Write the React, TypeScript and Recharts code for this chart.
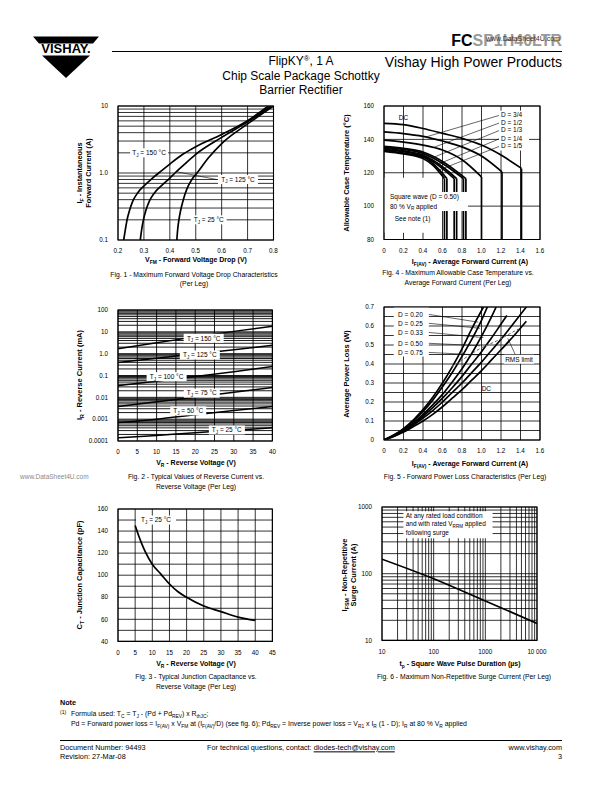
import React from "react";
import {
  CartesianGrid,
  Line,
  LineChart,
  ReferenceArea,
  ReferenceDot,
  ReferenceLine,
  XAxis,
  YAxis,
} from "recharts";

type Pt = [number, number];
const FONT = '"Liberation Sans", Arial, Helvetica, sans-serif';

// Fig. 1 - forward voltage drop (V, A)
const fig1XTicks = [0.2, 0.3, 0.4, 0.5, 0.6, 0.7, 0.8];
const fig1Tj150: Pt[] = [[0.222, 0.1], [0.228, 0.14], [0.235, 0.2], [0.245, 0.28], [0.257, 0.38], [0.275, 0.5], [0.3, 0.64], [0.33, 0.82], [0.357, 1.0], [0.4, 1.36], [0.45, 1.9], [0.5, 2.47], [0.6, 3.77], [0.7, 6.04], [0.78, 10]];
const fig1Tj125: Pt[] = [[0.286, 0.1], [0.291, 0.14], [0.298, 0.2], [0.308, 0.28], [0.321, 0.38], [0.34, 0.5], [0.37, 0.66], [0.4, 0.84], [0.42, 1.0], [0.45, 1.28], [0.5, 1.9], [0.6, 3.4], [0.7, 5.8], [0.79, 10]];
const fig1Tj25: Pt[] = [[0.427, 0.1], [0.43, 0.14], [0.435, 0.2], [0.442, 0.28], [0.452, 0.4], [0.466, 0.58], [0.485, 0.8], [0.505, 1.0], [0.55, 1.7], [0.6, 2.75], [0.7, 5.4], [0.8, 10]];

// Fig. 4 - allowable case temperature (A, °C)
const fig4XTicks = [0, 0.2, 0.4, 0.6, 0.8, 1.0, 1.2, 1.4, 1.6];
const fig4YTicks = [80, 100, 120, 140, 160];
const fig4Dc: Pt[] = [[0, 149.6], [0.2, 148.8], [0.4, 146.5], [0.6, 143.6], [0.8, 140.6], [1.0, 136.6], [1.2, 130.6], [1.41, 122.6]];
const fig4D34: Pt[] = [[0, 144.5], [0.2, 143.5], [0.4, 141.8], [0.6, 139], [0.8, 135.5], [1.0, 130], [1.21, 120.5]];
const fig4D12: Pt[] = [[0, 139.5], [0.2, 138.4], [0.4, 136.6], [0.6, 133.6], [0.8, 127.8], [1.0, 117.5]];
const fig4D13: Pt[] = [[0, 135.8], [0.2, 134.6], [0.4, 132.4], [0.6, 126.8], [0.84, 116.5]];
const fig4D13b: Pt[] = [[0, 135.2], [0.2, 134], [0.4, 131.6], [0.6, 125.6], [0.815, 116.5]];
const fig4D14: Pt[] = [[0, 134.4], [0.2, 133.1], [0.4, 130.6], [0.6, 123.6], [0.745, 116.5]];
const fig4D14b: Pt[] = [[0, 133.9], [0.2, 132.6], [0.4, 130], [0.6, 122.5], [0.72, 116.5]];
const fig4D15: Pt[] = [[0, 133.3], [0.2, 131.8], [0.4, 129.4], [0.5, 125.6], [0.645, 116.5]];
const fig4D15b: Pt[] = [[0, 132.8], [0.2, 131.3], [0.4, 128.6], [0.5, 124.6], [0.62, 116.5]];
const fig4Labels = ["D = 3/4", "D = 1/2", "D = 1/3", "D = 1/4", "D = 1/5"];
const fig4LabelY = [154.5, 150, 145.5, 140.5, 136];
const fig4LeaderEnd: Pt[] = [[0.45, 141.8], [0.5, 135], [0.52, 129.5], [0.55, 125], [0.56, 121.5]];

// Fig. 2 - reverse current (V, mA)
const fig2V = [0, 10, 20, 30, 40];
const fig2XTicks = [0, 5, 10, 15, 20, 25, 30, 35, 40];
const fig2Tj150 = [1.7, 3.2, 5.8, 10.5, 18];
const fig2Tj125 = [0.39, 0.62, 0.98, 1.5, 2.4];
const fig2Tj100 = [0.034, 0.055, 0.09, 0.15, 0.26];
const fig2Tj75 = [0.0038, 0.0062, 0.01, 0.017, 0.028];
const fig2Tj50 = [0.0007, 0.001, 0.0016, 0.0025, 0.0038];
const fig2Tj25 = [0.00014, 0.00018, 0.00024, 0.00031, 0.0004];
const fig2LabelTemps = ["150", "125", "100", "75", "50", "25"];
const fig2LabelPos: Pt[] = [[22.2, 5.07], [21.2, 0.87], [12.6, 0.089], [21.7, 0.0155], [18.2, 0.0024], [28.2, 0.00032]];

// Fig. 5 - forward power loss (A, W)
const fig5YTicks = [0, 0.05, 0.1, 0.15, 0.2, 0.25, 0.3, 0.35, 0.4, 0.45, 0.5, 0.55, 0.6, 0.65, 0.7];
const fig5D20: Pt[] = [[0, 0], [0.1, 0.026], [0.2, 0.06], [0.3, 0.105], [0.4, 0.16], [0.5, 0.225], [0.6, 0.3], [0.7, 0.385], [0.8, 0.48], [0.9, 0.585], [1.02, 0.7]];
const fig5D25: Pt[] = [[0, 0], [0.1, 0.025], [0.2, 0.057], [0.3, 0.1], [0.4, 0.15], [0.5, 0.21], [0.6, 0.28], [0.7, 0.355], [0.8, 0.44], [0.9, 0.53], [1.0, 0.63], [1.06, 0.7]];
const fig5D33: Pt[] = [[0, 0], [0.1, 0.024], [0.2, 0.053], [0.3, 0.09], [0.4, 0.135], [0.5, 0.185], [0.6, 0.24], [0.7, 0.305], [0.8, 0.375], [0.9, 0.455], [1.0, 0.545], [1.1, 0.645], [1.15, 0.7]];
const fig5D50: Pt[] = [[0, 0], [0.1, 0.022], [0.2, 0.05], [0.3, 0.085], [0.4, 0.125], [0.5, 0.17], [0.6, 0.22], [0.7, 0.275], [0.8, 0.335], [0.9, 0.4], [1.0, 0.465], [1.1, 0.535], [1.2, 0.61], [1.26, 0.655]];
const fig5D75: Pt[] = [[0, 0], [0.1, 0.02], [0.2, 0.046], [0.3, 0.078], [0.4, 0.115], [0.5, 0.155], [0.6, 0.2], [0.7, 0.25], [0.8, 0.3], [0.9, 0.355], [1.0, 0.41], [1.1, 0.47], [1.2, 0.53], [1.3, 0.595], [1.46, 0.7]];
const fig5Dc: Pt[] = [[0, 0], [0.1, 0.018], [0.2, 0.042], [0.3, 0.07], [0.4, 0.1], [0.5, 0.135], [0.6, 0.175], [0.7, 0.22], [0.8, 0.265], [0.9, 0.315], [1.0, 0.365], [1.1, 0.42], [1.2, 0.475], [1.3, 0.53], [1.46, 0.625]];
const fig5Rms: Pt[] = [[0.694, 0.386], [0.985, 0.482], [1.155, 0.521], [1.378, 0.584]];
const fig5Labels = ["D = 0.20", "D = 0.25", "D = 0.33", "D = 0.50", "D = 0.75"];
const fig5LabelY = [0.661, 0.614, 0.566, 0.509, 0.461];
const fig5LeaderEnd: Pt[] = [[0.967, 0.62], [0.985, 0.588], [1.02, 0.539], [0.985, 0.496], [1.0, 0.447]];

// Fig. 3 - junction capacitance (V, pF)
const fig3XTicks = [0, 5, 10, 15, 20, 25, 30, 35, 40, 45];
const fig3YTicks = [40, 50, 60, 70, 80, 90, 100, 110, 120, 130, 140, 150, 160];
const fig3V = [5, 6, 7, 8, 10, 12.5, 15, 17.5, 20, 25, 30, 35, 40];
const fig3Ct = [145, 136, 128, 121, 110, 101, 92, 85, 80, 72, 67, 62, 59];

// Fig. 6 - surge current (µs, A)
const fig6Tp = [10, 100, 1000, 10000];
const fig6Ifsm = [165, 84, 39, 18];

const logTicks = (lo: number, hi: number) => {
  const out: number[] = [];
  for (let e = Math.round(Math.log10(lo)); e < Math.round(Math.log10(hi)); e++) {
    for (let m = 1; m < 10; m++) out.push(+(m * 10 ** e).toPrecision(3));
  }
  out.push(hi);
  return out;
};
const zip = (xs: number[], ys: number[]): Pt[] => xs.map((x, i) => [x, ys[i]]);

type Geo = { left: number; top: number; w: number; h: number };
type Ax = { domain: [number, number]; ticks: number[]; labels: Record<string, string>; log?: boolean };
const YW = 36, MT = 8, MR = 16, XH = 18;

function Plot({ g, children }: { g: Geo; children: React.ReactNode }) {
  return (
    <div style={{ position: "absolute", left: g.left - YW, top: g.top - MT }}>
      <LineChart width={g.w + YW + MR} height={g.h + MT + XH} margin={{ top: MT, right: MR, bottom: 0, left: 0 }}>
        {children}
      </LineChart>
    </div>
  );
}

const tickStyle = { fontSize: 6.3, fill: "#000" };

function axes(x: Ax, y: Ax, gw = 0.8) {
  return [
    <CartesianGrid key="grid" stroke="#000" strokeWidth={gw} />,
    <XAxis key="xa" dataKey="x" type="number" scale={x.log ? "log" : "linear"} domain={x.domain} ticks={x.ticks}
      interval={0} allowDataOverflow tickLine={false} axisLine={false} tickMargin={3} tick={tickStyle}
      tickFormatter={(v: number) => x.labels[String(v)] ?? ""} height={XH} />,
    <YAxis key="ya" dataKey="y" type="number" scale={y.log ? "log" : "linear"} domain={y.domain} ticks={y.ticks}
      interval={0} allowDataOverflow tickLine={false} axisLine={false} tickMargin={4} tick={tickStyle}
      tickFormatter={(v: number) => y.labels[String(v)] ?? ""} width={YW} />,
  ];
}

const border = (x: Ax, y: Ax) => (
  <ReferenceArea key="border" x1={x.domain[0]} x2={x.domain[1]} y1={y.domain[0]} y2={y.domain[1]}
    fill="none" stroke="#000" strokeWidth={1.1} ifOverflow="visible" />
);

const curve = (d: Pt[], k: string, w = 1.7, extra: any = {}) => (
  <Line key={k} data={d.map(([x, y]) => ({ x, y }))} dataKey="y" type="monotone" stroke="#000" strokeWidth={w}
    dot={false} activeDot={false} isAnimationActive={false} {...extra} />
);

const leader = (a: Pt, b: Pt, k: string) => (
  <ReferenceLine key={k} segment={[{ x: a[0], y: a[1] }, { x: b[0], y: b[1] }]} stroke="#000" strokeWidth={0.6} />
);

const mask = (x1: number, x2: number, y1: number, y2: number, k: string) => (
  <ReferenceArea key={k} x1={x1} x2={x2} y1={y1} y2={y2} fill="#fff" fillOpacity={1} stroke="none" />
);

// text box drawn at a data point
const tag = (p: Pt, body: React.ReactNode, k: string, w = 0, anchor: "middle" | "start" = "middle", size = 6.5) => (
  <ReferenceDot key={k} x={p[0]} y={p[1]} r={0} ifOverflow="visible"
    shape={(s: any) => (
      <g>
        {w > 0 && (
          <rect x={anchor === "middle" ? s.cx - w / 2 : s.cx - 2} y={s.cy - 4.5} width={w} height={9} fill="#fff" />
        )}
        <text x={s.cx} y={s.cy + 2.3} textAnchor={anchor} fontSize={size} fill="#000">{body}</text>
      </g>
    )} />
);

const sub = (main: string, s: string, rest: string) => (
  <>
    <tspan>{main}</tspan>
    <tspan fontSize={4.6} dy={1.6}>{s}</tspan>
    <tspan dy={-1.6}>{rest}</tspan>
  </>
);
const tj = (t: string) => sub("T", "J", ` = ${t} °C`);

function Txt({ x, y, size = 7, bold = false, align = "center", rot = false, color = "#000", children }: any) {
  const tx = align === "center" ? "-50%" : align === "right" ? "-100%" : "0";
  return (
    <div style={{
      position: "absolute", left: x, top: y, fontSize: size, fontWeight: bold ? 700 : 400, color, lineHeight: 1,
      whiteSpace: "nowrap", transform: rot ? "translate(-50%,-50%) rotate(-90deg)" : `translate(${tx},-50%)`,
    }}>{children}</div>
  );
}
const Sub = ({ children }: any) => <span style={{ fontSize: "0.7em", position: "relative", top: "0.35em" }}>{children}</span>;
const Sup = ({ children }: any) => <span style={{ fontSize: "0.65em", position: "relative", top: "-0.5em" }}>{children}</span>;

// axis setups
const f1x: Ax = { domain: [0.2, 0.8], ticks: fig1XTicks, labels: { "0.2": "0.2", "0.3": "0.3", "0.4": "0.4", "0.5": "0.5", "0.6": "0.6", "0.7": "0.7", "0.8": "0.8" } };
const f1y: Ax = { domain: [0.1, 10], ticks: logTicks(0.1, 10), labels: { "0.1": "0.1", "1": "1.0", "10": "10" }, log: true };
const ampLabels = { "0": "0", "0.2": "0.2", "0.4": "0.4", "0.6": "0.6", "0.8": "0.8", "1": "1.0", "1.2": "1.2", "1.4": "1.4", "1.6": "1.6" };
const f4x: Ax = { domain: [0, 1.6], ticks: fig4XTicks, labels: ampLabels };
const f4y: Ax = { domain: [80, 160], ticks: fig4YTicks, labels: { "80": "80", "100": "100", "120": "120", "140": "140", "160": "160" } };
const f2x: Ax = { domain: [0, 40], ticks: fig2XTicks, labels: Object.fromEntries(fig2XTicks.map((t) => [String(t), String(t)])) };
const f2y: Ax = { domain: [0.0001, 100], ticks: logTicks(0.0001, 100), labels: { "0.0001": "0.0001", "0.001": "0.001", "0.01": "0.01", "0.1": "0.1", "1": "1.0", "10": "10", "100": "100" }, log: true };
const f5x: Ax = { domain: [0, 1.6], ticks: fig4XTicks, labels: ampLabels };
const f5y: Ax = { domain: [0, 0.7], ticks: fig5YTicks, labels: { "0": "0", "0.1": "0.1", "0.2": "0.2", "0.3": "0.3", "0.4": "0.4", "0.5": "0.5", "0.6": "0.6", "0.7": "0.7" } };
const f3x: Ax = { domain: [0, 45], ticks: fig3XTicks, labels: Object.fromEntries(fig3XTicks.map((t) => [String(t), String(t)])) };
const f3y: Ax = { domain: [40, 160], ticks: fig3YTicks, labels: Object.fromEntries([40, 60, 80, 100, 120, 140, 160].map((t) => [String(t), String(t)])) };
const f6x: Ax = { domain: [10, 10000], ticks: logTicks(10, 10000), labels: { "10": "10", "100": "100", "1000": "1000", "10000": "10 000" }, log: true };
const f6y: Ax = { domain: [10, 1000], ticks: logTicks(10, 1000), labels: { "10": "10", "100": "100", "1000": "1000" }, log: true };

const g1: Geo = { left: 118, top: 106, w: 155.5, h: 134 };
const g4: Geo = { left: 384, top: 106, w: 156, h: 133.5 };
const g2: Geo = { left: 118.3, top: 310, w: 154.4, h: 131 };
const g5: Geo = { left: 384, top: 307.3, w: 156, h: 133 };
const g3: Geo = { left: 118.3, top: 509.3, w: 154.4, h: 132.4 };
const g6: Geo = { left: 382.3, top: 507.3, w: 155, h: 133.4 };

export default function App() {
  const fig4Curves = [fig4Dc, fig4D34, fig4D12, fig4D13, fig4D13b, fig4D14, fig4D14b, fig4D15, fig4D15b];
  const fig2Series = [fig2Tj150, fig2Tj125, fig2Tj100, fig2Tj75, fig2Tj50, fig2Tj25];
  return (
    <div style={{ position: "absolute", left: 0, top: 0, width: 612, height: 792, background: "#fff", fontFamily: FONT, overflow: "hidden" }}>
      {/* header */}
      <svg style={{ position: "absolute", left: 0, top: 0 }} width={612} height={100}>
        <polygon points="33,36.5 99,36.5 93,43.5 39,43.5" fill="#000" />
        <text x={66} y={53} textAnchor="middle" fontSize={13} fontWeight={700} fill="#000">VISHAY.</text>
        <polygon points="42,55.5 90,55.5 66,78" fill="#000" />
        <line x1={112} y1={51.5} x2={562} y2={51.5} stroke="#000" strokeWidth={1} />
      </svg>
      <Txt x={562} y={40.5} size={16} bold align="right">FC<span style={{ color: "#9a9a9a" }}>SP1H40LTR</span></Txt>
      <Txt x={486} y={37.5} size={7} align="left" color="#333">www.DataSheet4U.com</Txt>
      <Txt x={301} y={61} size={12}>FlipKY<Sup>®</Sup>, 1 A</Txt>
      <Txt x={301} y={75.5} size={12}>Chip Scale Package Schottky</Txt>
      <Txt x={301} y={90} size={12}>Barrier Rectifier</Txt>
      <Txt x={562} y={62} size={14} align="right">Vishay High Power Products</Txt>

      {/* Fig. 1 */}
      <Plot g={g1}>
        {axes(f1x, f1y)}
        {curve(fig1Tj150, "c150")}
        {curve(fig1Tj125, "c125")}
        {curve(fig1Tj25, "c25")}
        {leader([0.428, 1.04], [0.58, 0.8], "l125")}
        {tag([0.32, 2.0], tj("150"), "t150", 38)}
        {tag([0.663, 0.8], tj("125"), "t125", 40)}
        {tag([0.55, 0.2], tj("25"), "t25", 36)}
        {border(f1x, f1y)}
      </Plot>
      <Txt x={80} y={173} size={7.3} bold rot>I<Sub>F</Sub> - Instantaneous</Txt>
      <Txt x={89} y={173} size={7.3} bold rot>Forward Current (A)</Txt>
      <Txt x={196} y={260} size={7} bold>V<Sub>FM</Sub> - Forward Voltage Drop (V)</Txt>
      <Txt x={194} y={275} size={6.8}>Fig. 1 - Maximum Forward Voltage Drop Characteristics</Txt>
      <Txt x={194} y={284} size={6.8}>(Per Leg)</Txt>

      {/* Fig. 4 */}
      <Plot g={g4}>
        {axes(f4x, f4y)}
        {mask(0, 0.58, 84, 117, "m4a")}
        {fig4Curves.map((c, i) => curve(c, `c4${i}`))}
        {fig4Curves.map((c, i) => {
          const last = c[c.length - 1];
          return curve([[last[0], last[1]], [last[0], 80]], `d4${i}`, 1.7, { type: "linear" });
        })}
        {fig4Labels.map((_, i) => leader([1.19, fig4LabelY[i]], fig4LeaderEnd[i], `l4${i}`))}
        {fig4Labels.map((t, i) => tag([1.2, fig4LabelY[i]], t, `t4${i}`, 30, "start"))}
        {tag([0.11, 92.2], "See note (1)", "sn", 0, "start")}
        {tag([0.2, 152.8], "DC", "dc4", 0)}
        {border(f4x, f4y)}
      </Plot>
      {/* note box sits above the RMS-limit drops */}
      <div style={{ position: "absolute", left: 385, top: 192, width: 83, height: 19, background: "#fff" }} />
      <Txt x={390} y={197} size={6.5} align="left">Square wave (D = 0.50)</Txt>
      <Txt x={390} y={206.5} size={6.5} align="left">80 % V<Sub>R</Sub> applied</Txt>
      <Txt x={347} y={173} size={7.5} bold rot>Allowable Case Temperature (°C)</Txt>
      <Txt x={470} y={262} size={7} bold>I<Sub>F(AV)</Sub> - Average Forward Current (A)</Txt>
      <Txt x={458} y={273} size={6.8}>Fig. 4 - Maximum Allowable Case Temperature vs.</Txt>
      <Txt x={458} y={283} size={6.8}>Average Forward Current (Per Leg)</Txt>

      {/* Fig. 2 */}
      <Plot g={g2}>
        {axes(f2x, f2y, 0.9)}
        {fig2Series.map((s, i) => curve(zip(fig2V, s), `c2${i}`, 1.5))}
        {fig2LabelTemps.map((t, i) => tag(fig2LabelPos[i], tj(t), `t2${i}`, t.length > 2 ? 40 : 36))}
        {border(f2x, f2y)}
      </Plot>
      <Txt x={80} y={375} size={7.5} bold rot>I<Sub>R</Sub> - Reverse Current (mA)</Txt>
      <Txt x={196} y={463} size={7} bold>V<Sub>R</Sub> - Reverse Voltage (V)</Txt>
      <Txt x={196} y={477} size={6.8}>Fig. 2 - Typical Values of Reverse Current vs.</Txt>
      <Txt x={196} y={487} size={6.8}>Reverse Voltage (Per Leg)</Txt>
      <Txt x={20} y={477} size={6.5} align="left" color="#8a8a8a">www.DataSheet4U.com</Txt>

      {/* Fig. 5 */}
      <Plot g={g5}>
        {axes(f5x, f5y)}
        {mask(0.1, 0.46, 0.44, 0.7, "m5")}
        {curve(fig5D20, "c520")}
        {curve(fig5D25, "c525")}
        {curve(fig5D33, "c533")}
        {curve(fig5D50, "c550")}
        {curve(fig5D75, "c575")}
        {curve(fig5Dc, "c5dc")}
        {curve(fig5Rms, "rms", 1, { stroke: "#666", strokeDasharray: "3 2", type: "linear" })}
        {fig5Labels.map((_, i) => leader([0.46, fig5LabelY[i]], fig5LeaderEnd[i], `l5${i}`))}
        {fig5Labels.map((t, i) => tag([0.144, fig5LabelY[i]], t, `t5${i}`, 0, "start"))}
        {leader([1.35, 0.445], [1.27, 0.535], "lrms")}
        {tag([1.385, 0.425], "RMS limit", "rmsl", 30)}
        {tag([1.05, 0.27], "DC", "dc5", 0)}
        {border(f5x, f5y)}
      </Plot>
      <Txt x={347} y={374} size={7.5} bold rot>Average Power Loss (W)</Txt>
      <Txt x={470} y={464} size={7} bold>I<Sub>F(AV)</Sub> - Average Forward Current (A)</Txt>
      <Txt x={465} y={477} size={6.8}>Fig. 5 - Forward Power Loss Characteristics (Per Leg)</Txt>

      {/* Fig. 3 */}
      <Plot g={g3}>
        {axes(f3x, f3y)}
        {curve(zip(fig3V, fig3Ct), "c3")}
        {tag([11.1, 150], tj("25"), "t3", 40)}
        {border(f3x, f3y)}
      </Plot>
      <Txt x={80} y={575} size={7.5} bold rot>C<Sub>T</Sub> - Junction Capacitance (pF)</Txt>
      <Txt x={196} y={664} size={7} bold>V<Sub>R</Sub> - Reverse Voltage (V)</Txt>
      <Txt x={196} y={677} size={6.8}>Fig. 3 - Typical Junction Capacitance vs.</Txt>
      <Txt x={196} y={687} size={6.8}>Reverse Voltage (Per Leg)</Txt>

      {/* Fig. 6 */}
      <Plot g={g6}>
        {axes(f6x, f6y)}
        {mask(26, 1380, 340, 860, "m6")}
        {curve(zip(fig6Tp, fig6Ifsm), "c6")}
        {tag([28.8, 741], "At any rated load condition", "a1", 0, "start")}
        {tag([28.8, 563], sub("and with rated V", "RRM", " applied"), "a2", 0, "start")}
        {tag([28.8, 412], "following surge", "a3", 0, "start")}
        {border(f6x, f6y)}
      </Plot>
      <Txt x={345} y={575} size={7.5} bold rot>I<Sub>FSM</Sub> - Non-Repetitive</Txt>
      <Txt x={354} y={575} size={7.5} bold rot>Surge Current (A)</Txt>
      <Txt x={460} y={664} size={7} bold>t<Sub>p</Sub> - Square Wave Pulse Duration (µs)</Txt>
      <Txt x={464} y={677} size={6.8}>Fig. 6 - Maximum Non-Repetitive Surge Current (Per Leg)</Txt>

      {/* note and footer */}
      <Txt x={60} y={703} size={7.2} bold align="left">Note</Txt>
      <Txt x={60} y={712} size={5} align="left">(1)</Txt>
      <Txt x={71} y={714} size={6.9} align="left">
        Formula used: T<Sub>C</Sub> = T<Sub>J</Sub> - (Pd + Pd<Sub>REV</Sub>) x R<Sub>thJC</Sub>;
      </Txt>
      <Txt x={71} y={724} size={6.9} align="left">
        Pd = Forward power loss = I<Sub>F(AV)</Sub> x V<Sub>FM</Sub> at (I<Sub>F(AV)</Sub>/D) (see fig. 6); Pd<Sub>REV</Sub> = Inverse power loss = V<Sub>R1</Sub> x I<Sub>R</Sub> (1 - D); I<Sub>R</Sub> at 80 % V<Sub>R</Sub> applied
      </Txt>
      <div style={{ position: "absolute", left: 60, top: 740, width: 502, height: 1, background: "#000" }} />
      <Txt x={60} y={748} size={7.3} align="left">Document Number: 94493</Txt>
      <Txt x={60} y={757} size={7.3} align="left">Revision: 27-Mar-08</Txt>
      <Txt x={207} y={748} size={7.3} align="left">
        For technical questions, contact: <span style={{ textDecoration: "underline" }}>diodes-tech@vishay.com</span>
      </Txt>
      <Txt x={562} y={748} size={7.3} align="right">www.vishay.com</Txt>
      <Txt x={562} y={757} size={7.3} align="right">3</Txt>
    </div>
  );
}
